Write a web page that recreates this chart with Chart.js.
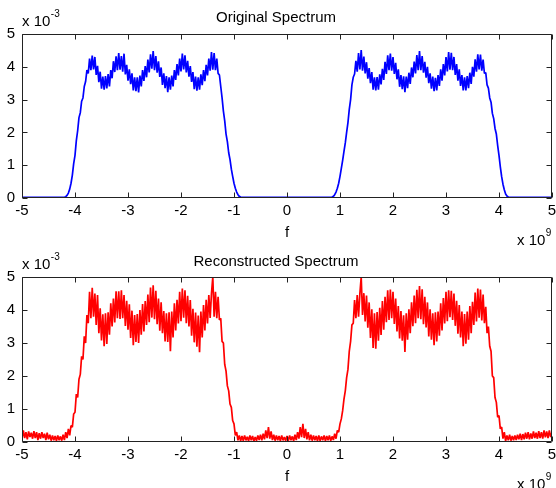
<!DOCTYPE html>
<html>
<head>
<meta charset="utf-8">
<script src="https://cdn.jsdelivr.net/npm/chart.js@4.4.0/dist/chart.umd.min.js"></script>
<style>
    html, body { margin: 0; padding: 0; background: #fff; overflow: hidden; }
    #wrap { position: relative; width: 556px; height: 488px; }
    .panel { position: absolute; left: 0; width: 556px; height: 252px; }
</style>
</head>
<body>
<div id="wrap">
    <div class="panel" style="top:0px"><canvas id="origChart"></canvas></div>
    <div class="panel" style="top:244px"><canvas id="reconChart"></canvas></div>
</div>
<script>
// frequency axis in units of 1e9, spectrum values in units of 1e-3
const freqStart = -5;
const freqStep = 0.025;
const xTicks = [-5, -4, -3, -2, -1, 0, 1, 2, 3, 4, 5];
const yTicks = [0, 1, 2, 3, 4, 5];

// one line of 10 samples each, 40 samples per unit of f
const originalSpectrum = [
    // -5 .. -4
    0.02,0.02,0.02,0.02,0.02,0.02,0.02,0.02,0.02,0.02,
    0.02,0.02,0.02,0.02,0.02,0.02,0.02,0.02,0.02,0.02,
    0.02,0.02,0.02,0.02,0.02,0.02,0.02,0.02,0.02,0.02,
    0.02,0.02,0.02,0.04,0.08,0.15,0.27,0.45,0.7,1.05,
    // -4 .. -3
    1.3,1.75,2.05,2.45,2.6,2.95,3.05,3.4,3.55,3.9,
    3.8,4.25,3.9,4.34,3.92,4.3,3.75,4.03,3.53,3.85,
    3.33,3.7,3.3,3.72,3.34,3.78,3.4,3.9,3.65,4.17,
    3.84,4.32,3.9,4.42,3.91,4.33,3.85,4.4,3.77,4.06,
    // -3 .. -2
    3.58,3.92,3.47,3.8,3.28,3.68,3.26,3.68,3.22,3.73,
    3.4,3.9,3.57,4.02,3.68,4.22,3.83,4.38,3.94,4.48,
    3.9,4.33,3.82,4.17,3.69,3.98,3.45,3.8,3.35,3.72,
    3.23,3.68,3.3,3.73,3.4,3.9,3.6,4.08,3.74,4.25,
    // -2 .. -1
    3.86,4.4,3.92,4.35,3.83,4.18,3.7,4.02,3.54,3.84,
    3.32,3.7,3.27,3.68,3.3,3.77,3.44,3.9,3.56,4.06,
    3.74,4.25,3.88,4.45,3.91,4.42,3.9,4.25,3.8,3.75,
    3.4,3.05,2.65,2.35,1.95,1.72,1.38,1.17,0.88,0.66,
    // -1 .. 0
    0.45,0.3,0.18,0.1,0.05,0.03,0.02,0.02,0.02,0.02,
    0.02,0.02,0.02,0.02,0.02,0.02,0.02,0.02,0.02,0.02,
    0.02,0.02,0.02,0.02,0.02,0.02,0.02,0.02,0.02,0.02,
    0.02,0.02,0.02,0.02,0.02,0.02,0.02,0.02,0.02,0.02,
    // 0 .. 1
    0.02,0.02,0.02,0.02,0.02,0.02,0.02,0.02,0.02,0.02,
    0.02,0.02,0.02,0.02,0.02,0.02,0.02,0.02,0.02,0.02,
    0.02,0.02,0.02,0.02,0.02,0.02,0.02,0.02,0.02,0.02,
    0.02,0.02,0.02,0.02,0.03,0.05,0.1,0.18,0.3,0.45,
    // 1 .. 2
    0.66,0.9,1.15,1.42,1.68,2.0,2.3,2.7,3.0,3.45,
    3.68,3.78,4.18,3.85,4.42,3.92,4.51,3.88,4.31,3.8,
    4.14,3.64,3.96,3.5,3.84,3.3,3.68,3.28,3.69,3.3,
    3.77,3.46,3.94,3.6,4.15,3.78,4.35,3.9,4.4,3.88,
    // 2 .. 3
    4.3,3.78,4.12,3.62,3.92,3.39,3.75,3.32,3.71,3.23,
    3.7,3.35,3.82,3.48,3.98,3.68,4.16,3.8,4.36,3.9,
    4.48,3.9,4.33,3.82,4.15,3.67,4.0,3.5,3.8,3.33,
    3.7,3.26,3.66,3.28,3.75,3.42,3.92,3.58,4.08,3.74,
    // 3 .. 4
    4.3,3.86,4.45,3.91,4.43,3.9,4.3,3.75,4.08,3.58,
    3.92,3.42,3.75,3.28,3.68,3.28,3.72,3.35,3.82,3.48,
    4.0,3.7,4.23,3.85,4.38,3.92,4.37,3.88,4.22,3.8,
    3.82,3.45,3.35,3.05,2.92,2.58,2.42,2.12,1.95,1.6,
    // 4 .. 5
    1.3,0.95,0.65,0.42,0.25,0.12,0.06,0.03,0.02,0.02,
    0.02,0.02,0.02,0.02,0.02,0.02,0.02,0.02,0.02,0.02,
    0.02,0.02,0.02,0.02,0.02,0.02,0.02,0.02,0.02,0.02,
    0.02,0.02,0.02,0.02,0.02,0.02,0.02,0.02,0.02,0.02,
    0.02
];

const reconstructedSpectrum = [
    // -5 .. -4
    0.1,0.35,0.12,0.3,0.08,0.32,0.15,0.28,0.1,0.33,
    0.12,0.3,0.06,0.27,0.1,0.3,0.12,0.25,0.06,0.28,
    0.08,0.22,0.04,0.2,0.05,0.18,0.03,0.2,0.05,0.17,
    0.04,0.22,0.06,0.3,0.12,0.4,0.2,0.5,0.45,0.85,
    // -4 .. -3
    0.9,1.45,1.35,1.9,2.05,2.6,2.5,3.2,3.0,3.85,
    3.6,4.55,3.75,4.67,3.8,4.5,3.55,4.45,3.3,4.05,
    3.08,3.87,2.9,3.9,2.97,3.93,3.25,4.2,3.5,4.35,
    3.62,4.57,3.75,4.57,3.73,4.6,3.75,4.45,3.52,4.28,
    // -3 .. -2
    3.4,4.17,3.15,3.98,2.93,3.85,3.03,3.88,3.0,4.0,
    3.25,4.18,3.35,4.27,3.55,4.47,3.63,4.68,3.77,4.75,
    3.72,4.58,3.57,4.35,3.37,4.23,3.3,3.97,3.05,3.9,
    3.03,3.93,2.75,3.95,3.17,4.2,3.38,4.31,3.59,4.55,
    // -2 .. -1
    3.66,4.65,3.77,4.6,3.6,4.43,3.5,4.3,3.22,4.04,
    3.02,3.92,2.89,3.83,2.72,3.95,3.17,4.15,3.38,4.31,
    3.59,4.45,3.76,4.5,5.0,3.8,4.55,3.75,4.4,3.7,
    3.75,3.05,3.0,2.35,2.15,1.7,1.55,1.15,1.05,0.65,
    // -1 .. 0
    0.55,0.2,0.3,0.05,0.2,0.03,0.18,0.04,0.2,0.05,
    0.16,0.03,0.2,0.05,0.18,0.02,0.15,0.04,0.2,0.06,
    0.22,0.05,0.25,0.08,0.35,0.12,0.45,0.1,0.32,0.06,
    0.22,0.04,0.2,0.05,0.18,0.03,0.2,0.05,0.15,0.04,
    // 0 .. 1
    0.18,0.04,0.2,0.05,0.17,0.03,0.22,0.06,0.3,0.1,
    0.45,0.15,0.55,0.12,0.4,0.08,0.3,0.05,0.22,0.04,
    0.2,0.05,0.18,0.03,0.2,0.04,0.17,0.05,0.2,0.03,
    0.18,0.05,0.2,0.04,0.17,0.06,0.25,0.1,0.35,0.3,
    // 1 .. 2
    0.55,0.7,0.95,1.3,1.55,1.95,2.2,2.75,3.05,3.55,
    3.6,4.3,3.75,4.45,3.8,4.5,5.0,3.85,4.51,3.65,
    4.44,3.46,4.23,3.15,4.02,2.85,3.9,2.83,3.94,3.07,
    4.07,3.24,4.27,3.4,4.4,3.63,4.6,3.7,4.62,3.75,
    // 2 .. 3
    4.55,3.58,4.35,3.35,4.12,3.14,3.97,3.07,3.84,2.73,
    3.9,3.1,4.02,3.3,4.23,3.51,4.44,3.6,4.61,3.75,
    4.73,3.72,4.63,3.57,4.4,3.47,4.23,3.2,4.02,3.1,
    3.9,2.93,3.93,3.05,3.95,3.22,4.2,3.38,4.36,3.59,
    // 3 .. 4
    4.55,3.66,4.6,3.78,4.58,3.7,4.5,3.52,4.28,3.28,
    4.15,3.17,3.95,2.9,3.88,2.98,3.95,3.1,4.12,3.3,
    4.25,3.55,4.53,3.65,4.65,3.77,4.62,3.68,4.47,3.6,
    4.1,3.3,3.5,2.9,2.75,2.0,1.95,1.35,1.2,0.75,
    // 4 .. 5
    0.8,0.4,0.45,0.1,0.3,0.03,0.2,0.05,0.22,0.04,
    0.18,0.05,0.2,0.06,0.22,0.08,0.25,0.06,0.24,0.08,
    0.28,0.1,0.3,0.08,0.26,0.1,0.32,0.12,0.28,0.1,
    0.33,0.12,0.3,0.1,0.35,0.14,0.32,0.12,0.35,0.15,
    0.3
];

const FONT = 'Liberation Sans, Arial, Helvetica, sans-serif';

function toPoints(values) {
    return values.map((v, i) => ({ x: freqStart + i * freqStep, y: v }));
}

// draws the MATLAB style box, inward ticks on all four sides and the "x 10^n" multipliers
const matlabAxes = {
    id: 'matlabAxes',
    afterDraw(chart, args, opts) {
        const ctx = chart.ctx;
        const a = chart.chartArea;
        const xs = chart.scales.x;
        const ys = chart.scales.y;
        const L = Math.round(a.left) + 0.5, R = Math.round(a.right) - 0.5;
        const T = Math.round(a.top) + 0.5, B = Math.round(a.bottom) - 0.5;
        const tl = 5;

        ctx.save();
        ctx.strokeStyle = '#222';
        ctx.lineWidth = 1;
        ctx.beginPath();
        ctx.rect(L, T, R - L, B - T);
        xTicks.forEach(v => {
            const px = Math.round(xs.getPixelForValue(v)) + 0.5;
            ctx.moveTo(px, B); ctx.lineTo(px, B - tl);
            ctx.moveTo(px, T); ctx.lineTo(px, T + tl);
        });
        yTicks.forEach(v => {
            const py = Math.round(ys.getPixelForValue(v)) + 0.5;
            ctx.moveTo(L, py); ctx.lineTo(L + tl, py);
            ctx.moveTo(R, py); ctx.lineTo(R - tl, py);
        });
        ctx.stroke();

        // exponent labels
        ctx.fillStyle = '#000';
        ctx.textBaseline = 'middle';
        ctx.textAlign = 'left';
        function power(x, y, exp) {
            ctx.font = '15px ' + FONT;
            ctx.fillText('x 10', x, y);
            const w = ctx.measureText('x 10').width;
            ctx.font = '10px ' + FONT;
            ctx.fillText(exp, x + w + 0.5, y - 8);
        }
        power(a.left, a.top - 12, opts.yExp);
        power(a.right - 35, a.bottom + 43, opts.xExp);
        ctx.restore();
    }
};

function makeChart(canvasId, title, values, color, titlePad) {
    const ctx = document.getElementById(canvasId).getContext('2d');
    return new Chart(ctx, {
        type: 'line',
        data: {
            datasets: [{
                data: toPoints(values),
                borderColor: color,
                borderWidth: 1.7,
                borderJoinStyle: 'bevel',
                pointRadius: 0,
                tension: 0,
                fill: false
            }]
        },
        options: {
            responsive: true,
            maintainAspectRatio: false,
            animation: false,
            layout: { padding: { left: 0, right: 4, top: 0, bottom: 0 } },
            plugins: {
                legend: { display: false },
                tooltip: { enabled: false },
                title: {
                    display: true,
                    text: title,
                    color: '#000',
                    font: { family: FONT, size: 15, weight: 'normal' },
                    padding: titlePad
                },
                matlabAxes: { yExp: '-3', xExp: '9' }
            },
            scales: {
                x: {
                    type: 'linear',
                    min: -5,
                    max: 5,
                    afterBuildTicks: (s) => { s.ticks = xTicks.map(v => ({ value: v })); },
                    afterFit: (s) => { s.height = 54; s.paddingLeft = 0; s.paddingRight = 0; },
                    grid: { display: false, drawTicks: false },
                    border: { display: false },
                    ticks: { color: '#000', padding: 4, maxRotation: 0, font: { family: FONT, size: 15 } },
                    title: {
                        display: true,
                        text: 'f',
                        color: '#000',
                        font: { family: FONT, size: 15 },
                        padding: { top: 0, bottom: 10 }
                    }
                },
                y: {
                    min: 0,
                    max: 5,
                    afterBuildTicks: (s) => { s.ticks = yTicks.map(v => ({ value: v })); },
                    afterFit: (s) => { s.width = 22; },
                    grid: { display: false, drawTicks: false },
                    border: { display: false },
                    ticks: { color: '#000', padding: 7, font: { family: FONT, size: 15 } }
                }
            }
        },
        plugins: [matlabAxes]
    });
}

makeChart('origChart', 'Original Spectrum', originalSpectrum, '#0000ff', { top: 9, bottom: 7 });
makeChart('reconChart', 'Reconstructed Spectrum', reconstructedSpectrum, '#ff0000', { top: 9, bottom: 6 });
</script>
</body>
</html>
